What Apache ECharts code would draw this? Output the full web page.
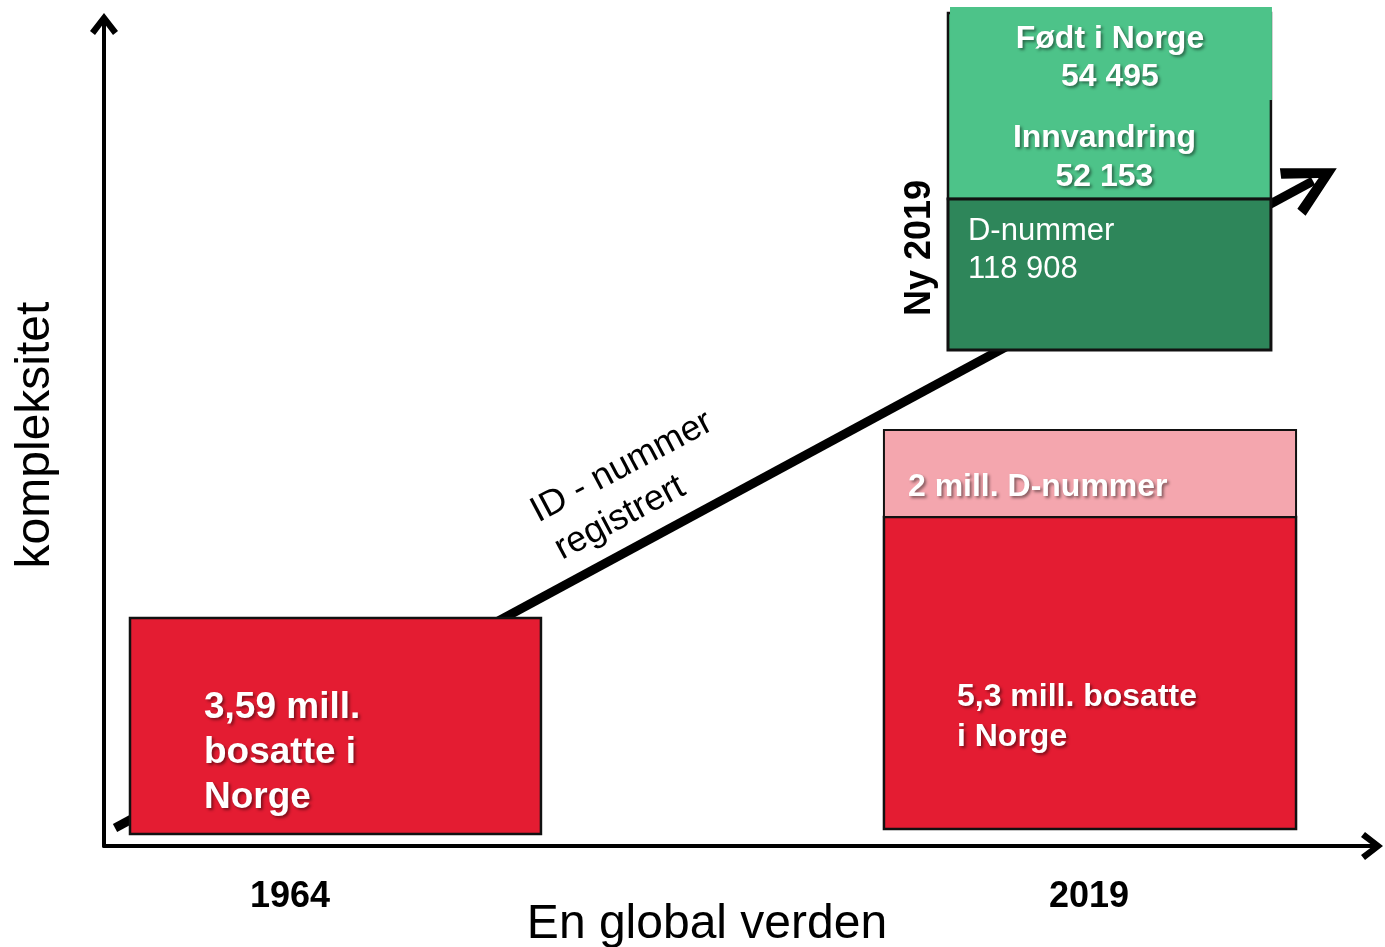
<!DOCTYPE html>
<html>
<head>
<meta charset="utf-8">
<title>kompleksitet</title>
<script src="https://cdn.jsdelivr.net/npm/echarts@6.0.0/dist/echarts.min.js"></script>
<style>
html, body {margin: 0; padding: 0; background: #fff;}
#main {width: 1385px; height: 947px;}
</style>
</head>
<body>
<div id="main"></div>
<script>
// x轴上的年份
var yearTicks = [14.67, 77.68];
var yearLabels = ['1964', '2019'];

// 方块: 名称, x区间, y区间, 文字
var boxNames = ['bosatte1964', 'bosatte2019', 'dnummer2019', 'innvandring', 'fodt', 'dnummerNy'];
var boxX = [[2.05, 34.46], [61.51, 94.01], [61.51, 94.01], [66.56, 92.03], [66.72, 92.11], [66.56, 92.03]];
var boxY = [[1.46, 27.74], [2.07, 40.02], [40.02, 50.61], [78.71, 101.34], [90.75, 102.07], [60.34, 78.71]];
var boxText = ['3,59 mill.\nbosatte i\nNorge', '5,3 mill. bosatte\ni Norge', '2 mill. D-nummer',
    'Innvandring\n52 153', 'Født i Norge\n54 495', 'D-nummer\n118 908'];

// 斜线箭头
var trendFrom = [0.87, 2.19];
var trendTo = [95.35, 80.9];

// 注释文字
var noteText = ['Ny 2019', 'ID - nummer', 'registrert'];
var notePos = [[64.35, 72.75], [40.85, 46.11], [40.69, 39.9]];

var FONT = '"Liberation Sans", Arial, sans-serif';
var RED = '#E41C32', PINK = '#F4A6AE', LIGHT = '#4DC389', DARK = '#2E865A';

// 每个方块的样式
var boxStyle = {
    bosatte1964: {fill: RED, stroke: '#111', lw: 2.5, align: 'left', dx: 74, dy: 135, size: 37, lh: 45, bold: true},
    bosatte2019: {fill: RED, stroke: '#111', lw: 2.5, align: 'left', dx: 73, dy: 200, size: 32, lh: 40, bold: true},
    dnummer2019: {fill: PINK, stroke: '#111', lw: 2, align: 'left', dx: 24, dy: 57, size: 32, lh: 40, bold: true},
    innvandring: {fill: LIGHT, stroke: '#111', lw: 2.5, align: 'center', dx: -5, dy: 145, size: 32, lh: 39, bold: true},
    fodt: {fill: LIGHT, stroke: null, lw: 0, align: 'center', dx: -1, dy: 51, size: 32, lh: 38, bold: true},
    dnummerNy: {fill: DARK, stroke: '#111', lw: 3, align: 'left', dx: 20, dy: 51, size: 31, lh: 38, bold: false}
};
var noteStyle = [
    {rotate: 90, size: 36, bold: true},
    {rotate: 28, size: 36, bold: false},
    {rotate: 28, size: 36, bold: false}
];

var chevron = 'path://M0,18 L14,0 L28,18 L23,22 L14,10 L5,22 Z';
var bigChevron = 'path://M27,0 L54,51 L44,55 L27,21 L10,55 L0,51 Z';

var boxData = [];
for (var i = 0; i < boxNames.length; i++) {
    boxData.push([boxX[i][0], boxX[i][1], boxY[i][0], boxY[i][1]]);
}
var noteData = [];
for (var j = 0; j < noteText.length; j++) {
    noteData.push([notePos[j][0], notePos[j][1]]);
}

function renderBox(params, api) {
    var i = params.dataIndex;
    var st = boxStyle[boxNames[i]];
    var p0 = api.coord([api.value(0), api.value(3)]);
    var p1 = api.coord([api.value(1), api.value(2)]);
    var w = p1[0] - p0[0], h = p1[1] - p0[1];
    var tx = st.align === 'center' ? p0[0] + w / 2 + st.dx : p0[0] + st.dx;
    var textStyle = {
        text: boxText[i],
        x: tx,
        y: p0[1] + st.dy,
        fill: '#fff',
        fontFamily: FONT,
        fontSize: st.size,
        fontWeight: st.bold ? 'bold' : 'normal',
        lineHeight: st.lh,
        align: st.align,
        verticalAlign: 'middle'
    };
    if (st.bold) {
        textStyle.textShadowColor = 'rgba(0,0,0,0.45)';
        textStyle.textShadowBlur = 3;
        textStyle.textShadowOffsetX = 2;
        textStyle.textShadowOffsetY = 2;
    }
    return {
        type: 'group',
        children: [
            {
                type: 'rect',
                shape: {x: p0[0], y: p0[1], width: w, height: h},
                style: {fill: st.fill, stroke: st.stroke, lineWidth: st.lw}
            },
            {type: 'text', style: textStyle}
        ]
    };
}

function renderNote(params, api) {
    var i = params.dataIndex;
    var st = noteStyle[i];
    var p = api.coord([api.value(0), api.value(1)]);
    return {
        type: 'text',
        x: p[0],
        y: p[1],
        rotation: st.rotate * Math.PI / 180,
        style: {
            text: noteText[i],
            fill: '#000',
            fontFamily: FONT,
            fontSize: st.size,
            fontWeight: st.bold ? 'bold' : 'normal',
            align: 'center',
            verticalAlign: 'middle'
        }
    };
}

var chart = echarts.init(document.getElementById('main'));

var option = {
    backgroundColor: '#fff',
    animation: false,
    grid: {left: 104, right: 13, top: 24, bottom: 101, outerBoundsMode: 'none', containLabel: false},
    xAxis: {
        type: 'value',
        min: 0,
        max: 100,
        name: 'En global verden',
        nameLocation: 'middle',
        nameGap: 55,
        nameMoveOverlap: false,
        nameTextStyle: {fontFamily: FONT, fontSize: 48, color: '#000', padding: [0, 62, 0, 0]},
        axisLine: {
            lineStyle: {color: '#000', width: 4},
            symbol: ['none', chevron],
            symbolSize: [28, 22]
        },
        axisTick: {show: false},
        splitLine: {show: false},
        axisLabel: {
            customValues: yearTicks,
            formatter: function (v) {
                var k = yearTicks.indexOf(v);
                return k >= 0 ? yearLabels[k] : '';
            },
            margin: 33,
            fontFamily: FONT,
            fontSize: 36,
            fontWeight: 'bold',
            color: '#000'
        }
    },
    yAxis: {
        type: 'value',
        min: 0,
        max: 100,
        name: 'kompleksitet',
        nameLocation: 'middle',
        nameGap: 44,
        nameMoveOverlap: false,
        nameTextStyle: {fontFamily: FONT, fontSize: 48, color: '#000'},
        axisLine: {
            show: true,
            lineStyle: {color: '#000', width: 4},
            symbol: ['none', chevron],
            symbolSize: [28, 22]
        },
        axisTick: {show: false},
        splitLine: {show: false},
        axisLabel: {show: false}
    },
    series: [
        {
            type: 'lines',
            coordinateSystem: 'cartesian2d',
            symbol: ['none', bigChevron],
            symbolSize: [54, 54],
            lineStyle: {color: '#000', width: 9, opacity: 1},
            data: [{coords: [trendFrom, trendTo]}],
            z: 1
        },
        {
            type: 'custom',
            renderItem: renderBox,
            data: boxData,
            clip: false,
            z: 3
        },
        {
            type: 'custom',
            renderItem: renderNote,
            data: noteData,
            clip: false,
            z: 4
        }
    ]
};

chart.setOption(option);
</script>
</body>
</html>
